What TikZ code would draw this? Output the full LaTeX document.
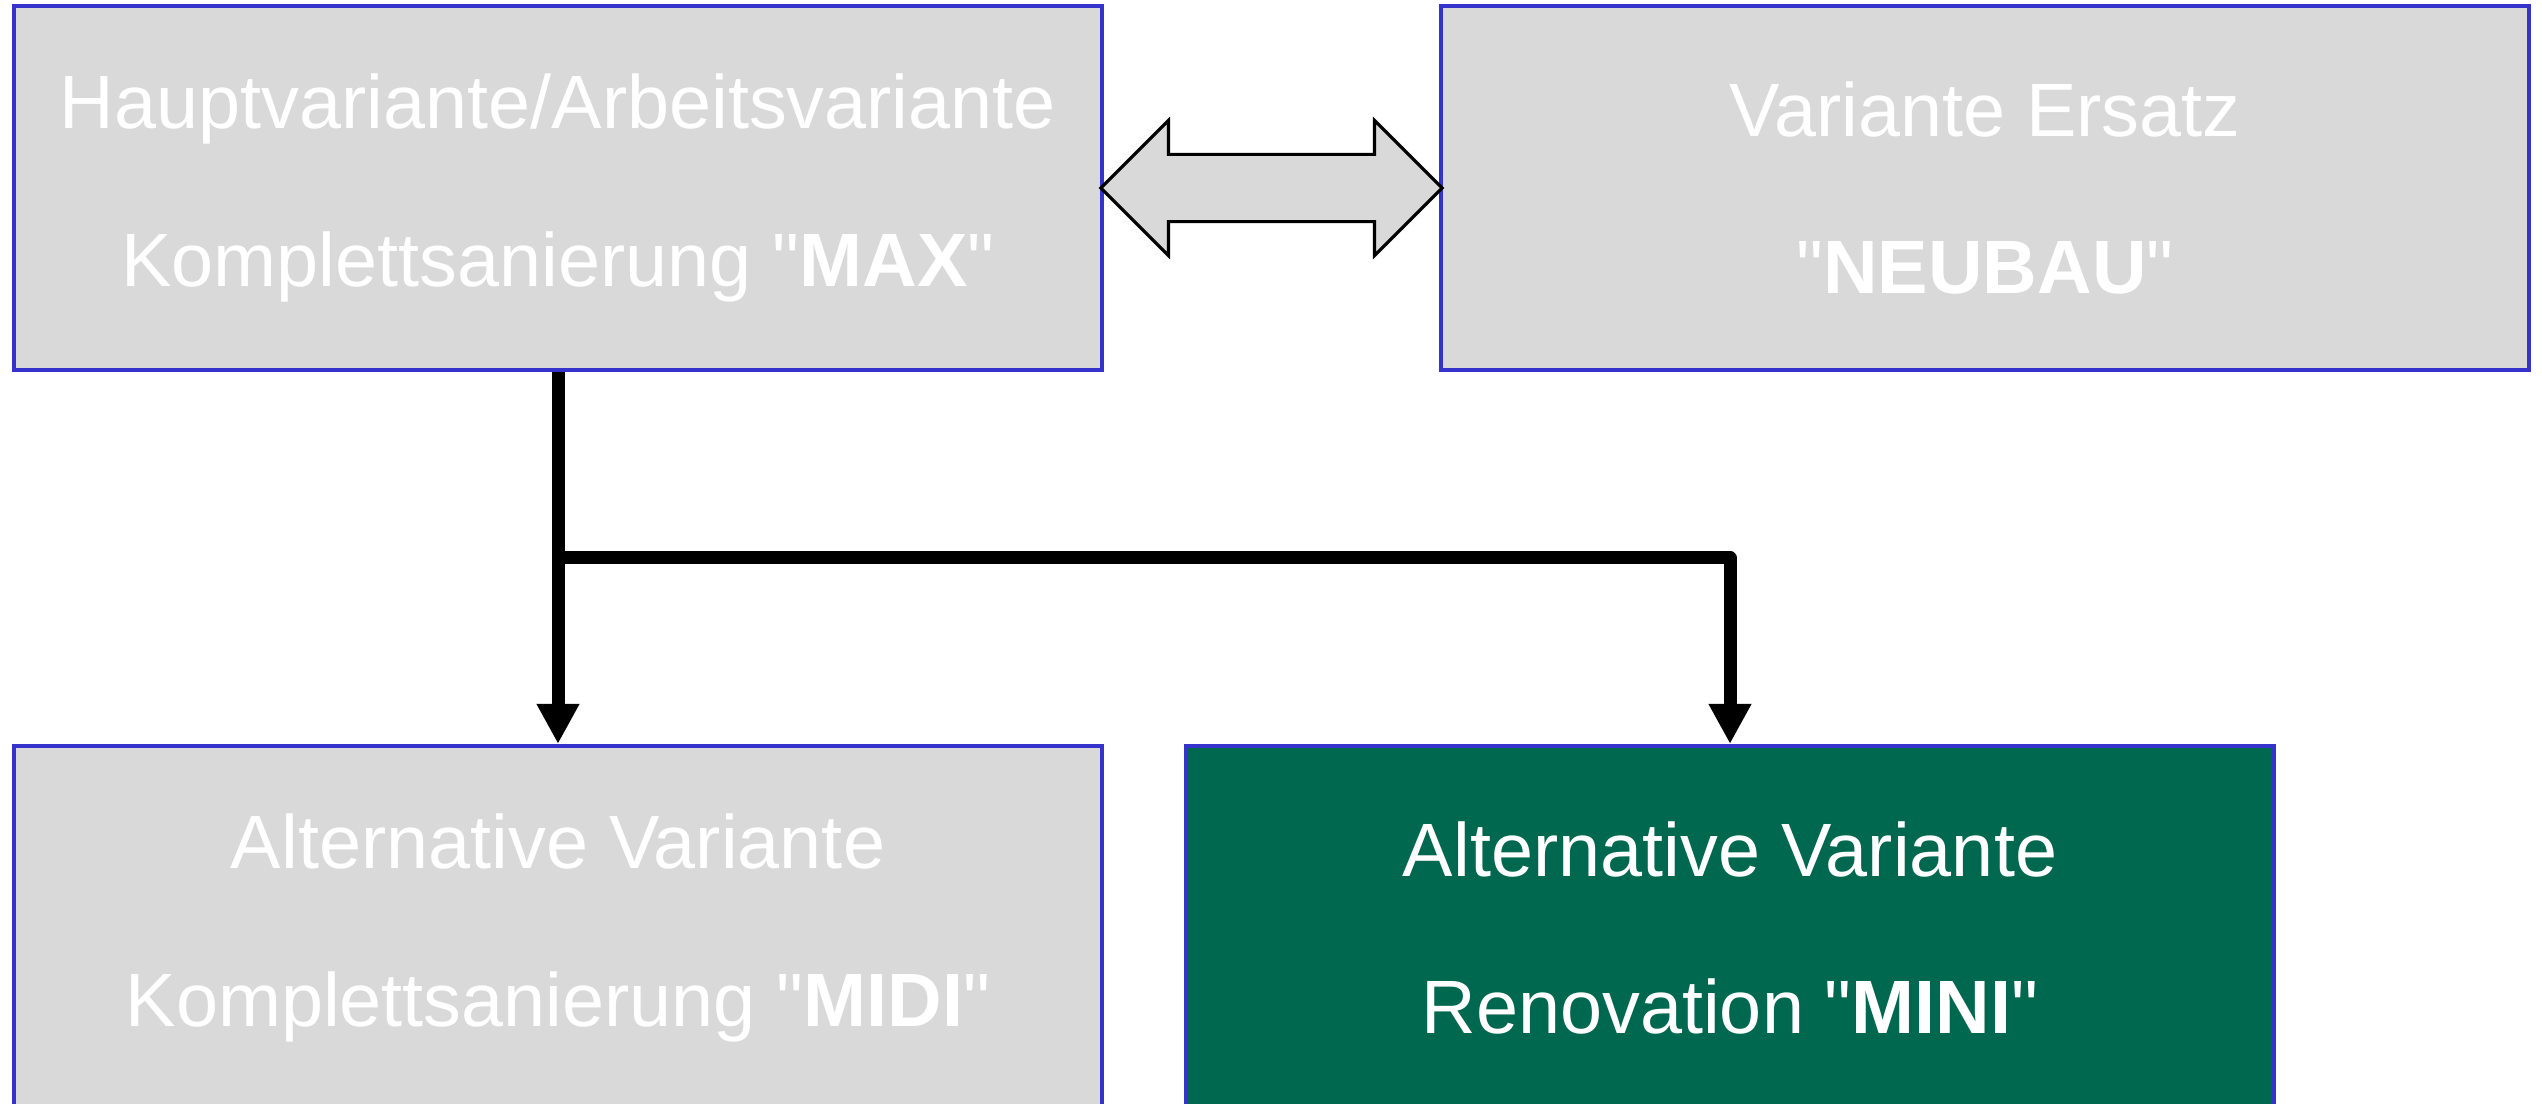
\documentclass[tikz,border=0pt]{standalone}
\usepackage{fontspec}
\setmainfont{Liberation Sans}
\usetikzlibrary{positioning,calc,shapes.arrows,arrows.meta}
\definecolor{boxgray}{RGB}{217,217,217}
\definecolor{boxblue}{RGB}{54,50,204}
\definecolor{darkgreen}{RGB}{0,104,78}

\begin{document}
\begin{tikzpicture}[x=0.01cm,y=-0.01cm,
  variant/.style={draw=boxblue, line width=1.1pt, fill=boxgray, text=white, minimum width=10.88cm, minimum height=3.64cm, inner sep=0pt, align=center, font=\fontsize{21.5}{44.7}\selectfont},
  swap/.style={double arrow, draw, line width=0.9pt, fill=boxgray, minimum height=3.41cm, minimum width=1.32cm, inner sep=0.32cm, double arrow head extend=0.34cm, double arrow tip angle=90},
  link/.style={line width=3.7pt, line join=round, -{Triangle[length=0.4cm,width=0.4cm]}}]

\useasboundingbox (0,0) rectangle (2542,1104);

\node[variant] (max) at (558,188) {Hauptvariante/Arbeitsvariante\\Komplettsanierung \textquotedbl\textbf{MAX}\textquotedbl};
\node[variant] (neubau) at (1985,188) {Variante Ersatz\\\textquotedbl\textbf{NEUBAU}\textquotedbl};
\node[variant] (midi) at (558,928) {Alternative Variante\\Komplettsanierung \textquotedbl\textbf{MIDI}\textquotedbl};
\node[variant, fill=darkgreen] (mini) at (1730,928) {Alternative Variante\\Renovation \textquotedbl\textbf{MINI}\textquotedbl};

\node[swap] (tausch) at ($(max.east)!0.5!(neubau.west)$) {};

\coordinate (split) at ($(max.south)!0.5!(midi.north)$);
\draw[link] (max.south) -- (midi.north);
\draw[link] (split) -| (mini.north);
\end{tikzpicture}
\end{document}
